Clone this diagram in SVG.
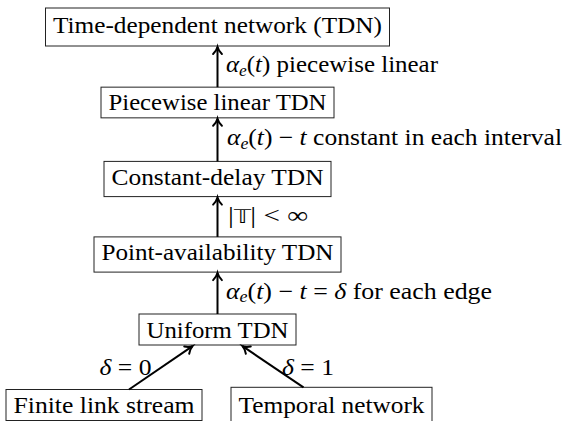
<svg xmlns="http://www.w3.org/2000/svg" width="566" height="421" viewBox="0 0 566 421">
  <defs>
    <style>
      .box { fill: #fff; stroke: #222; stroke-width: 1; }
      .t { text-anchor: middle; }
      .it { font-style: italic; }
      .sub { font-size: 16px; }
      .edge { stroke: #000; stroke-width: 2; fill: none; marker-end: url(#tip); }
    </style>
    <marker id="tip" markerUnits="userSpaceOnUse" viewBox="-9 -6 10 12" refX="0" refY="0" markerWidth="10" markerHeight="12" orient="auto" overflow="visible">
      <path d="M -7,-4.4 C -4.5,-1.8 -1.8,-0.5 0,0 C -1.8,0.5 -4.5,1.8 -7,4.4" fill="none" stroke="#000" stroke-width="2" stroke-linecap="round"/>
    </marker>
  </defs>

  <g font-family="'Liberation Serif', 'Times New Roman', serif" font-size="23" fill="#000">
  <g id="tdn">
    <rect class="box" x="45.5" y="8" width="344" height="38"/>
    <text class="t" x="217.5" y="32.75" textLength="329" lengthAdjust="spacingAndGlyphs">Time-dependent network (TDN)</text>
  </g>
  <g id="piecewise">
    <rect class="box" x="101" y="87.15" width="233" height="30.7"/>
    <text class="t" x="217.5" y="110.35" textLength="218" lengthAdjust="spacingAndGlyphs">Piecewise linear TDN</text>
  </g>
  <g id="constant">
    <rect class="box" x="104" y="161.4" width="227" height="35.2"/>
    <text class="t" x="217.5" y="184.6" textLength="212" lengthAdjust="spacingAndGlyphs">Constant-delay TDN</text>
  </g>
  <g id="point">
    <rect class="box" x="94" y="236.9" width="247" height="35.2"/>
    <text class="t" x="217.5" y="260.1" textLength="232" lengthAdjust="spacingAndGlyphs">Point-availability TDN</text>
  </g>
  <g id="uniform">
    <rect class="box" x="139" y="314" width="157" height="31"/>
    <text class="t" x="217.5" y="337.5" textLength="142" lengthAdjust="spacingAndGlyphs">Uniform TDN</text>
  </g>
  <g id="finite">
    <rect class="box" x="6" y="389.5" width="196" height="31"/>
    <text class="t" x="104" y="413" textLength="181" lengthAdjust="spacingAndGlyphs">Finite link stream</text>
  </g>
  <g id="temporal">
    <rect class="box" x="231" y="387.3" width="201" height="35.4"/>
    <text class="t" x="331.5" y="413" textLength="186" lengthAdjust="spacingAndGlyphs">Temporal network</text>
  </g>

  <g id="edges">
    <line class="edge" x1="217.5" y1="87.15" x2="217.5" y2="47"/>
    <line class="edge" x1="217.5" y1="161.4" x2="217.5" y2="118.8"/>
    <line class="edge" x1="217.5" y1="236.9" x2="217.5" y2="197.6"/>
    <line class="edge" x1="217.5" y1="314" x2="217.5" y2="273.1"/>
    <line class="edge" x1="129" y1="389.5" x2="192.5" y2="346.2"/>
    <line class="edge" x1="303.5" y1="387.3" x2="242.5" y2="346.2"/>
    <text x="226" y="72.3" textLength="212" lengthAdjust="spacingAndGlyphs"><tspan class="it">α</tspan><tspan class="it sub" dy="3.5">e</tspan><tspan dy="-3.5">(</tspan><tspan class="it">t</tspan>) piecewise linear</text>
    <text x="227" y="145.4" textLength="335" lengthAdjust="spacingAndGlyphs"><tspan class="it">α</tspan><tspan class="it sub" dy="3.5">e</tspan><tspan dy="-3.5">(</tspan><tspan class="it">t</tspan>) − <tspan class="it">t</tspan> constant in each interval</text>
    <text x="228" y="222.5" textLength="80" lengthAdjust="spacingAndGlyphs">|<tspan font-size="19">𝕋</tspan>| &lt; ∞</text>
    <text x="226" y="298.8" textLength="266" lengthAdjust="spacingAndGlyphs"><tspan class="it">α</tspan><tspan class="it sub" dy="3.5">e</tspan><tspan dy="-3.5">(</tspan><tspan class="it">t</tspan>) − <tspan class="it">t</tspan> = <tspan class="it">δ</tspan> for each edge</text>
    <text x="99.5" y="375" textLength="52" lengthAdjust="spacingAndGlyphs"><tspan class="it">δ</tspan> = 0</text>
    <text x="282" y="375" textLength="52" lengthAdjust="spacingAndGlyphs"><tspan class="it">δ</tspan> = 1</text>
  </g>
  </g>
</svg>
